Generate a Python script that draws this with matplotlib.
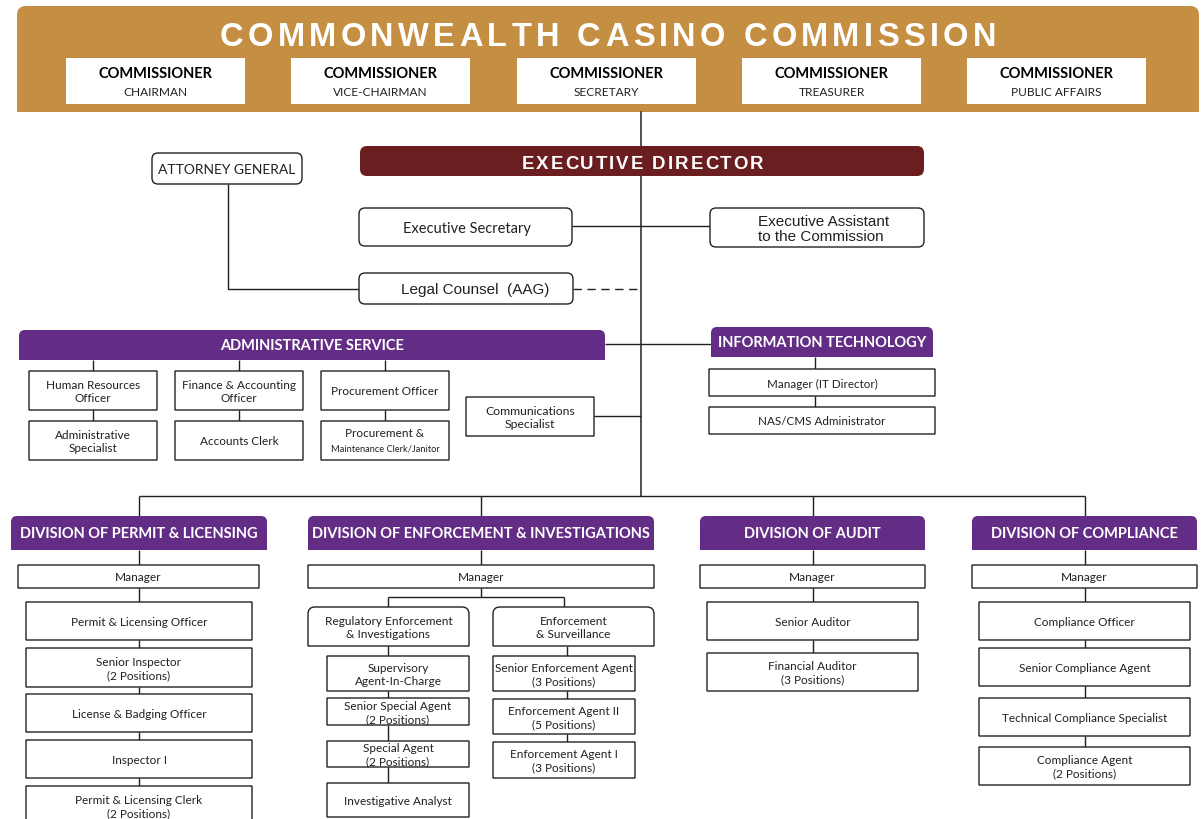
import matplotlib
matplotlib.use("Agg")
import matplotlib.pyplot as plt
from matplotlib.path import Path
from matplotlib.patches import PathPatch
from matplotlib.textpath import TextToPath
from matplotlib.font_manager import FontProperties

# =====================================================
# LABELS
# =====================================================

title = "COMMONWEALTH CASINO COMMISSION"
commissioner_title = "COMMISSIONER"
commissioner_roles = ["CHAIRMAN", "VICE-CHAIRMAN", "SECRETARY", "TREASURER", "PUBLIC AFFAIRS"]

director = "EXECUTIVE DIRECTOR"
attorney = "ATTORNEY GENERAL"
exec_secretary = "Executive Secretary"
exec_assistant = "Executive Assistant\nto the Commission"
legal_counsel = "Legal Counsel  (AAG)"

admin_title = "ADMINISTRATIVE SERVICE"
admin_top = ["Human Resources\nOfficer", "Finance & Accounting\nOfficer", "Procurement Officer"]
admin_bottom = ["Administrative\nSpecialist", "Accounts Clerk", "Procurement &\nMaintenance Clerk/Janitor"]
comms = "Communications\nSpecialist"

it_title = "INFORMATION TECHNOLOGY"
it_staff = ["Manager (IT Director)", "NAS/CMS Administrator"]

divisions = ["DIVISION OF PERMIT & LICENSING",
             "DIVISION OF ENFORCEMENT & INVESTIGATIONS",
             "DIVISION OF AUDIT",
             "DIVISION OF COMPLIANCE"]
manager = "Manager"

permit_staff = ["Permit & Licensing Officer", "Senior Inspector\n(2 Positions)",
                "License & Badging Officer", "Inspector I",
                "Permit & Licensing Clerk\n(2 Positions)"]
enf_units = ["Regulatory Enforcement\n& Investigations", "Enforcement\n& Surveillance"]
reg_staff = ["Supervisory\nAgent-In-Charge", "Senior Special Agent\n(2 Positions)",
             "Special Agent\n(2 Positions)", "Investigative Analyst"]
surv_staff = ["Senior Enforcement Agent\n(3 Positions)", "Enforcement Agent II\n(5 Positions)",
              "Enforcement Agent I\n(3 Positions)"]
audit_staff = ["Senior Auditor", "Financial Auditor\n(3 Positions)"]
compliance_staff = ["Compliance Officer", "Senior Compliance Agent",
                    "Technical Compliance Specialist", "Compliance Agent\n(2 Positions)"]

# =====================================================
# STYLE
# =====================================================

DPI = 100
GOLD = "#C48E43"
MAROON = "#6B1E1F"
PURPLE = "#632D86"
INK = "#231F20"
SANS = "Lato"
HELV = "Liberation Sans"

fig = plt.figure(figsize=(12.01, 8.20), dpi=DPI)
ax = fig.add_axes([0, 0, 1, 1])
ax.set_xlim(0, 1201)
ax.set_ylim(820, 0)
ax.axis("off")

t2p = TextToPath()


def rbox(x0, y0, x1, y1, r_top=0, r_bot=0, fc="white", ec=INK, lw=1.0, z=3):
    verts = [(x0, y0 + r_top), (x0, y0), (x0 + r_top, y0),
             (x1 - r_top, y0), (x1, y0), (x1, y0 + r_top),
             (x1, y1 - r_bot), (x1, y1), (x1 - r_bot, y1),
             (x0 + r_bot, y1), (x0, y1), (x0, y1 - r_bot),
             (x0, y0 + r_top)]
    codes = [Path.MOVETO, Path.CURVE3, Path.CURVE3,
             Path.LINETO, Path.CURVE3, Path.CURVE3,
             Path.LINETO, Path.CURVE3, Path.CURVE3,
             Path.LINETO, Path.CURVE3, Path.CURVE3,
             Path.CLOSEPOLY]
    ax.add_patch(PathPatch(Path(verts, codes), facecolor=fc, edgecolor=ec,
                           linewidth=lw, zorder=z))


def seg(xs, ys, ls="-"):
    ax.plot(xs, ys, color=INK, linewidth=1.0, linestyle=ls, zorder=2,
            solid_capstyle="butt")


def label(x, y, s, size=8.5, family=SANS, weight="normal", color=INK, **kw):
    ax.text(x, y, s, fontsize=size, family=family, weight=weight, color=color,
            ha=kw.pop("ha", "center"), va="center", linespacing=kw.pop("ls", 1.25),
            zorder=5, **kw)


def spaced_text(cx, baseline, s, fp, total_w, color):
    # letter-spaced caption, spread to a given pixel width
    k = DPI / 72.0
    space_w = 0.28 * fp.get_size_in_points() * k
    widths = [space_w if ch == " " else
              t2p.get_text_width_height_descent(ch, fp, ismath=False)[0] * k
              for ch in s]
    track = (total_w - sum(widths)) / (len(s) - 1)
    x = cx - total_w / 2
    for ch, w in zip(s, widths):
        if ch != " ":
            ax.text(x + w / 2, baseline, ch, fontproperties=fp, color=color,
                    ha="center", va="baseline", zorder=5)
        x += w + track


def column(x0, x1, boxes, names, cx, start_y, size=8.5):
    prev = start_y
    for (top, bot), name in zip(boxes, names):
        seg([cx, cx], [prev, top])
        rbox(x0, top, x1, bot)
        label((x0 + x1) / 2, (top + bot) / 2 + 0.5, name, size=size)
        prev = bot


# =====================================================
# COMMISSION HEADER
# =====================================================

rbox(17, 7, 1199, 113, r_top=9, fc=GOLD, ec="none", z=1)
spaced_text(608, 46, title,
            FontProperties(family=HELV, weight="bold", size=23.5), 776, "white")

for x, role in zip([66, 291, 517, 742, 967], commissioner_roles):
    rbox(x, 59, x + 179, 105, fc="white", ec="none")
    label(x + 89.5, 74.5, commissioner_title, size=10.5, weight="bold", color="black")
    label(x + 89.5, 92, role, size=8.6)

# main spine
ax.plot([641, 641], [113, 497], color=INK, linewidth=1.1, zorder=2)

# =====================================================
# EXECUTIVE LEVEL
# =====================================================

rbox(360, 147, 924, 177, r_top=7, r_bot=7, fc=MAROON, ec="none")
spaced_text(642.5, 169, director,
            FontProperties(family=HELV, weight="bold", size=13.4), 242, "white")

seg([228, 228, 359], [185, 290, 290])
rbox(152, 154, 302, 185, r_top=6, r_bot=6)
label(227, 170, attorney, size=10)

seg([572, 710], [227, 227])
rbox(359, 209, 572, 247, r_top=6, r_bot=6)
label(466.5, 228.5, exec_secretary, size=10.5)
rbox(710, 209, 924, 248, r_top=6, r_bot=6)
label(758, 229.5, exec_assistant, size=11, family=HELV, ha="left", ls=1.17)

seg([573, 641], [290, 290], ls=(0, (6, 4)))
rbox(359, 274, 573, 305, r_top=6, r_bot=6)
label(475, 290.5, legal_counsel, size=11, family=HELV)

# =====================================================
# ADMINISTRATIVE SERVICE / IT
# =====================================================

seg([605, 711], [345, 345])
rbox(19, 331, 605, 361, r_top=6, fc=PURPLE, ec="none")
label(312, 346.5, admin_title, size=10.5, weight="bold", color="white")

for x0, top_name, bot_name in zip([29, 175, 321], admin_top, admin_bottom):
    cx = x0 + 64
    seg([cx, cx], [361, 372])
    rbox(x0, 372, x0 + 128, 411)
    label(cx, 392, top_name, size=8.5)
    seg([cx, cx], [411, 422])
    rbox(x0, 422, x0 + 128, 461)
    if "Janitor" in bot_name:
        first, second = bot_name.split("\n")
        label(cx, 434, first, size=8.5)
        label(cx, 449.5, second, size=6.7)
    else:
        label(cx, 442, bot_name, size=8.5)

seg([594, 641], [417, 417])
rbox(466, 398, 594, 437)
label(530, 418, comms, size=8.8)

rbox(711, 328, 933, 358, r_top=6, fc=PURPLE, ec="none")
label(822, 343.5, it_title, size=10.5, weight="bold", color="white")
column(709, 935, [(370, 397), (408, 435)], it_staff, 815, 358, size=8.4)

# =====================================================
# DIVISIONS
# =====================================================

div_spans = [(11, 267), (308, 654), (700, 925), (972, 1197)]
mgr_spans = [(18, 259), (308, 654), (700, 925), (972, 1197)]
div_centers = [(a + b) / 2 for a, b in div_spans]

seg([div_centers[0], div_centers[-1]], [497, 497])
for (a, b), (ma, mb), name in zip(div_spans, mgr_spans, divisions):
    c = (a + b) / 2
    seg([c, c], [497, 517])
    rbox(a, 517, b, 551, r_top=6, fc=PURPLE, ec="none")
    label(c, 534.5, name, size=10.5, weight="bold", color="white")
    seg([c, c], [551, 566])
    rbox(ma, 566, mb, 589)
    label((ma + mb) / 2, 578, manager, size=8.6)

# permit & licensing
column(26, 252, [(603, 641), (649, 688), (695, 733), (741, 779), (787, 826)],
       permit_staff, div_centers[0], 589)

# enforcement & investigations
seg([481, 481], [589, 598])
seg([388, 564], [598, 598])
for x0, x1, cx, name in [(308, 469, 388, enf_units[0]), (493, 654, 564, enf_units[1])]:
    seg([cx, cx], [598, 608])
    rbox(x0, 608, x1, 647, r_top=7)
    label((x0 + x1) / 2, 628, name, size=8.6)
column(327, 469, [(657, 692), (699, 726), (742, 768), (784, 818)], reg_staff, 388, 647)
column(493, 635, [(657, 692), (700, 735), (743, 779)], surv_staff, 567, 647)

# audit
column(707, 918, [(603, 641), (654, 692)], audit_staff, div_centers[2], 589)

# compliance
column(979, 1190, [(603, 641), (649, 687), (699, 737), (748, 786)],
       compliance_staff, div_centers[3], 589)

fig.savefig("out.png", dpi=DPI)
